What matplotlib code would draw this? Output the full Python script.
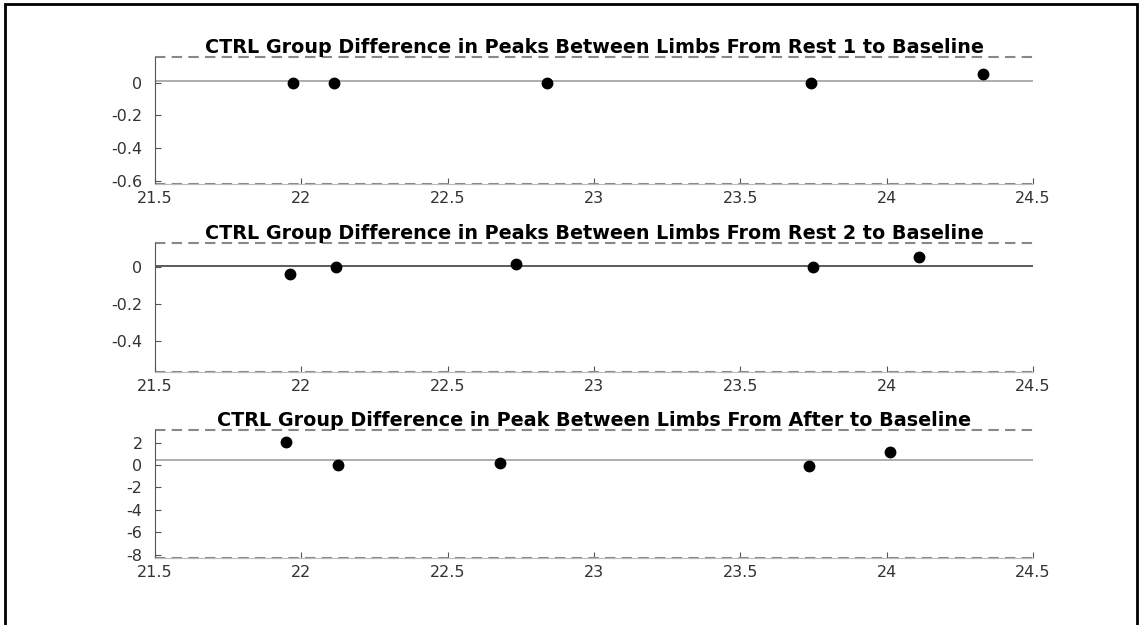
import matplotlib.pyplot as plt
from matplotlib.patches import Rectangle

plt.rcParams['font.family'] = ['DejaVu Sans']

titles = ['CTRL Group Difference in Peaks Between Limbs From Rest 1 to Baseline',
          'CTRL Group Difference in Peaks Between Limbs From Rest 2 to Baseline',
          'CTRL Group Difference in Peak Between Limbs From After to Baseline']

x1 = [21.97, 22.11, 22.84, 23.74, 24.33]
y1 = [-0.003, -0.003, 0.0, -0.004, 0.05]
x2 = [21.96, 22.12, 22.735, 23.75, 24.11]
y2 = [-0.036, 0.002, 0.014, 0.002, 0.054]
x3 = [21.946, 22.125, 22.68, 23.733, 24.01]
y3 = [2.03, 0.0, 0.18, -0.12, 1.16]

means = [0.007, 0.007, 0.48]
uppers = [0.155, 0.13, 3.13]
lowers = [-0.616, -0.571, -8.3]
yticks = [[-0.6, -0.4, -0.2, 0], [-0.4, -0.2, 0], [-8, -6, -4, -2, 0, 2]]
ytlabels = [['-0.6', '-0.4', '-0.2', '0'], ['-0.4', '-0.2', '0'],
            ['-8', '-6', '-4', '-2', '0', '2']]
xticks = [21.5, 22, 22.5, 23, 23.5, 24, 24.5]
xtlabels = ['21.5', '22', '22.5', '23', '23.5', '24', '24.5']
mean_colors = ['#a0a0a0', '#404040', '#a0a0a0']

W, H = 1143, 625
fig = plt.figure(figsize=(W / 100, H / 100), dpi=100)
fig.patches.append(Rectangle((5 / W, -0.1), 1132 / W, 1.1 - 4 / H,
                             transform=fig.transFigure, fill=False,
                             edgecolor='black', linewidth=2))

# axes boxes in pixels: left, top, right, bottom
boxes = [(155, 57, 1033, 184), (155, 243, 1033, 372), (155, 430, 1033, 558)]
xs = [x1, x2, x3]
ys = [y1, y2, y3]

for i in range(3):
    l, t, r, b = boxes[i]
    ax = fig.add_axes([l / W, 1 - b / H, (r - l) / W, (b - t) / H])
    ax.set_xlim(21.5, 24.5)
    ax.set_ylim(lowers[i], uppers[i])
    ax.axhline(means[i], color=mean_colors[i], linewidth=1.2, zorder=1)
    ax.axhline(uppers[i], color='#888888', linestyle=(0, (5, 3)), linewidth=1.5, clip_on=False)
    ax.axhline(lowers[i], color='#888888', linestyle=(0, (5, 3)), linewidth=1.5, clip_on=False)
    ax.plot(xs[i], ys[i], 'o', color='black', markersize=7.5, zorder=3)
    for s in ['top', 'right']:
        ax.spines[s].set_visible(False)
    ax.spines['left'].set_color('#555555')
    ax.spines['bottom'].set_color('#bbbbbb')
    ax.set_xticks(xticks)
    ax.set_xticklabels(xtlabels)
    ax.set_yticks(yticks[i])
    ax.set_yticklabels(ytlabels[i])
    ax.tick_params(direction='in', length=4, colors='#555555', labelcolor='#333333',
                   labelsize=11.5)
    ax.tick_params(axis='x', pad=5)
    ax.tick_params(axis='y', pad=9)
    ax.set_title(titles[i], fontsize=13.8, fontweight='bold', pad=2)

fig.savefig('out.png', dpi=100)
